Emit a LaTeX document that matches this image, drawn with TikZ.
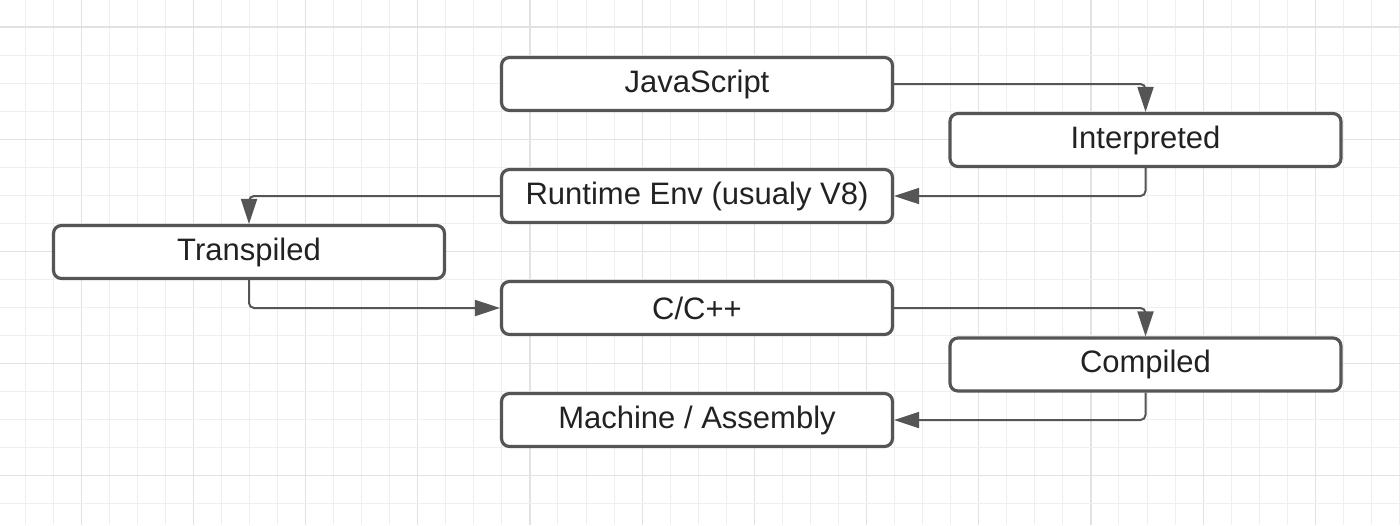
\documentclass[tikz,border=0pt]{standalone}
\usepackage{fontspec}
\setmainfont{Liberation Sans}
\usetikzlibrary{arrows.meta}
\definecolor{boxc}{HTML}{555555}
\definecolor{txtc}{HTML}{222222}
\definecolor{gridl}{HTML}{EFEFEF}
\definecolor{gridd}{HTML}{E2E2E2}
\begin{document}
\begin{tikzpicture}[x=1pt,y=-1pt,
  box/.style={draw=boxc, line width=3.2pt, rounded corners=8pt, fill=white,
    minimum width=391pt, minimum height=53pt, inner sep=0pt,
    font=\fontsize{31}{37}\selectfont, text=txtc},
  conn/.style={draw=boxc, line width=2pt, rounded corners=5pt,
    -{Triangle[length=25pt,width=16pt]}},
  gridline/.style={draw=gridl, line width=1pt},
  gridmajor/.style={draw=gridd, line width=1.2pt}]
\useasboundingbox (0,0) rectangle (1400,525);
\fill[white] (0,0) rectangle (1400,525);
\foreach \i in {0,...,49} {
  \pgfmathtruncatemacro{\m}{mod(\i,4)}
  \ifnum\m=2 \draw[gridmajor] (25+28.05*\i,0) -- (25+28.05*\i,525);
  \else \draw[gridline] (25+28.05*\i,0) -- (25+28.05*\i,525); \fi
}
\foreach \j in {0,...,18} {
  \pgfmathtruncatemacro{\m}{mod(\j,4)}
  \ifnum\m=0 \draw[gridmajor] (0,27+28.05*\j) -- (1400,27+28.05*\j);
  \else \draw[gridline] (0,27+28.05*\j) -- (1400,27+28.05*\j); \fi
}
\node[box] (js) at (697,84) {JavaScript};
\node[box] (interp) at (1145.5,140) {Interpreted};
\node[box] (rt) at (697,196) {Runtime Env (usualy V8)};
\node[box] (tr) at (249,252) {Transpiled};
\node[box] (cc) at (697,308) {C/C++};
\node[box] (comp) at (1145.5,364.5) {Compiled};
\node[box] (ma) at (697,420) {Machine / Assembly};
\draw[conn] (js.east) -| (interp.north);
\draw[conn] (interp.south) |- (rt.east);
\draw[conn] (rt.west) -| (tr.north);
\draw[conn] (tr.south) |- (cc.west);
\draw[conn] (cc.east) -| (comp.north);
\draw[conn] (comp.south) |- (ma.east);
\end{tikzpicture}
\end{document}
